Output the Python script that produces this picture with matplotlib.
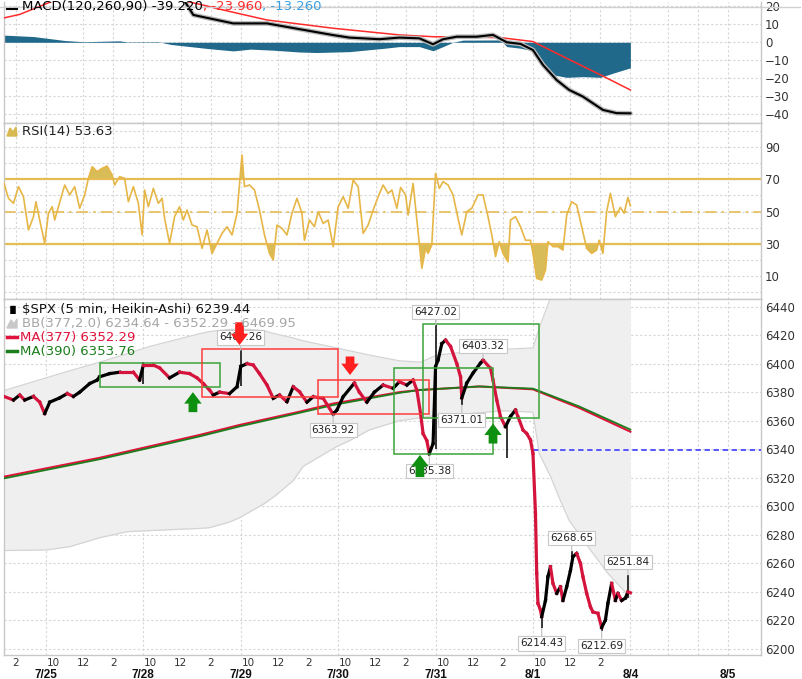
import numpy as np
import matplotlib.pyplot as plt
from matplotlib.collections import LineCollection
from matplotlib.lines import Line2D
from matplotlib.patches import Rectangle
from matplotlib.transforms import blended_transform_factory

W, H = 803, 679
BARS_PER_DAY = 78          # 5-min bars, 9:30 - 16:00
# x values below are 5-min bar numbers counted from the 7/25 open

day_labels = ['7/25', '7/28', '7/29', '7/30', '7/31', '8/1', '8/4', '8/5']
hour_labels = ['10', '12', '2']
hour_offsets = [6, 30, 54]   # 10:00, 12:00, 14:00

# ---- price (Heikin-Ashi close) ----
price_t = [-33, -26, -21, -17, -10, -5, -1, 3, 11, 17, 22, 27, 35, 41, 43, 51, 59, 70, 75, 78,
           86, 91, 99, 107, 115, 121, 126, 131, 134, 139, 147, 153, 156, 161, 166, 171, 177, 182,
           187, 193, 198, 203, 209, 214, 222, 230, 233, 238, 247, 251, 257, 263, 270, 278, 283,
           289, 294, 297, 300, 302, 305, 307, 310, 312, 314, 317, 320, 324, 329, 332, 333, 337,
           342, 348, 350, 356, 358, 361, 364, 368, 372, 376, 378, 382, 385, 388, 390, 392, 393,
           394, 396, 397, 400, 402, 404, 406, 409, 412, 414, 417, 420, 422, 425, 428, 430, 433,
           436, 438, 442, 445, 448, 450, 453, 456, 458, 461, 464, 466, 468]
price_v = [6376.8, 6374.5, 6378, 6374.5, 6377, 6373, 6365, 6373, 6376, 6379, 6377, 6380, 6386,
           6388.5, 6390.8, 6393, 6394, 6394, 6388.5, 6399, 6399, 6397, 6390, 6394, 6393, 6390,
           6386, 6381.5, 6378, 6380, 6379, 6383.8, 6398, 6400, 6399, 6393, 6385, 6375.7, 6378,
           6373.3, 6383.8, 6380.3, 6373, 6376.8, 6375.7, 6364.5, 6367.5, 6376.8, 6386.4, 6380,
           6373, 6380, 6385, 6382.7, 6387.3, 6385, 6388.5, 6381.5, 6365, 6351, 6346, 6337, 6344,
           6398, 6402.5, 6414, 6416.5, 6412, 6400, 6390.8, 6376, 6386.4, 6393.4, 6400.4, 6402.5,
           6396.7, 6388.5, 6374.5, 6362.8, 6355.8, 6363, 6367.5, 6362.8, 6353.5, 6351, 6346.5,
           6337, 6295, 6253, 6232, 6227.3, 6222.6, 6234, 6250.7, 6257.7, 6246, 6239, 6243.6,
           6234, 6243.6, 6255, 6264.7, 6267, 6260, 6250.7, 6239, 6229.6, 6226, 6225, 6215,
           6220.3, 6232, 6246, 6234, 6239, 6234, 6235.7, 6240, 6239.4]
# thin wicks: bar, low, high
wick_t = [78, 156, 230, 307, 312, 333, 369, 397, 421, 445, 466]
wick_lo = [6386, 6384, 6363.92, 6335.38, 6340, 6371.01, 6334, 6214.43, 6262, 6212.69, 6236]
wick_hi = [6401, 6409.26, 6367, 6340, 6427.02, 6377, 6358, 6225, 6268.65, 6218, 6251.84]

# ---- Bollinger band (377, 2.0) ----
bb_t = [-34, 0, 19, 43, 65, 83, 123, 131, 147, 155, 163, 175, 183, 198, 206, 233, 243, 259, 283,
        300, 313, 340, 353, 366, 390, 395, 404, 412, 419, 433, 450, 468]
bb_upper = [6381, 6390, 6395, 6401, 6407, 6412, 6421, 6422.5, 6424, 6424, 6424, 6423, 6421,
            6418, 6416, 6411, 6409, 6406, 6402, 6401, 6406, 6408.5, 6409.5, 6410, 6411, 6425,
            6446, 6456, 6461, 6465, 6468, 6470]
bb_lower = [6269, 6269.4, 6271.7, 6278, 6282.2, 6283, 6284.5, 6285, 6289, 6292, 6296, 6302,
            6307, 6318, 6328, 6342, 6346, 6353.5, 6360, 6362, 6364, 6365, 6366, 6367, 6366,
            6337, 6321, 6304, 6290, 6273, 6253, 6236]

# ---- moving averages ----
ma_t = [-34, 43, 123, 155, 203, 230, 283, 299, 347, 390, 427, 468]
ma377 = [6320.7, 6334, 6350, 6357, 6366.3, 6372, 6380, 6381.5, 6384, 6382, 6369, 6352.3]
ma390 = [6319.5, 6333, 6349, 6356, 6365.5, 6371, 6379.5, 6381.5, 6384, 6382.5, 6370, 6353.8]

prev_close = 6339.39

# labelled extremes: bar, value, 'up' (label above) / 'dn' (label below)
extremes = [(156, 6409.26, 'up'), (230, 6363.92, 'dn'), (307, 6335.38, 'dn'),
            (312, 6427.02, 'up'), (333, 6371.01, 'dn'), (350, 6403.32, 'up'),
            (397, 6214.43, 'dn'), (421, 6268.65, 'up'), (445, 6212.69, 'dn'),
            (466, 6251.84, 'up')]

# pattern boxes: bar0, bar1, low, high, colour
boxes = [(43, 139, 6383.3, 6400.6, '#3aa33a'), (125, 234, 6376.4, 6410, '#ff3b3b'),
         (218, 307, 6364.5, 6388.5, '#ff3b3b'), (279, 358, 6337, 6396.7, '#3aa33a'),
         (302, 395, 6361.7, 6427.5, '#3aa33a')]

# signal arrows: bar, tail price, tip price, colour
signals = [(155, 6429, 6413, '#ff1f1f'), (243.5, 6405, 6392, '#ff1f1f'),
           (117.7, 6366, 6380, '#0f8f0f'), (299.5, 6320.5, 6336, '#0f8f0f'),
           (358, 6344, 6358, '#0f8f0f')]

# ---- RSI(14) ----
rsi_t = [-34, -30, -26, -22, -18, -14, -10, -8, -5, -1, 2, 5, 7, 10, 15, 19, 23, 27, 31, 34, 37,
         41, 45, 49, 53, 55, 59, 63, 66, 70, 74, 77, 79, 82, 86, 90, 93, 95, 99, 103, 107, 110,
         113, 117, 121, 125, 129, 133, 137, 141, 145, 149, 153, 157, 159, 163, 167, 171, 175,
         179, 182, 185, 189, 193, 197, 201, 205, 207, 211, 215, 218, 222, 226, 230, 234, 238,
         242, 246, 250, 254, 258, 262, 266, 270, 274, 277, 281, 284, 288, 290, 294, 297, 301,
         304, 306, 309, 312, 315, 318, 322, 326, 330, 333, 337, 341, 346, 350, 354, 357, 360,
         363, 366, 370, 372, 376, 380, 384, 388, 390, 393, 397, 400, 402, 406, 410, 414, 417,
         421, 425, 429, 433, 437, 441, 443, 446, 449, 452, 456, 460, 463, 466, 468]
rsi_v = [68.6, 58.2, 55.1, 65.5, 59.2, 38.5, 46.8, 56.1, 44.7, 30.2, 48.9, 53.0, 44.7, 53.0,
         66.5, 60.3, 65.5, 52.0, 60.3, 70.7, 77.9, 74.8, 76.9, 78.3, 72.7, 66.5, 71.7, 70.7,
         56.1, 65.5, 55.1, 35.4, 63.4, 53.0, 64.4, 55.1, 58.2, 45.7, 30.2, 46.8, 53.0, 44.7,
         50.9, 41.6, 40.5, 27.0, 38.5, 23.9, 30.2, 36.4, 40.5, 35.4, 48.9, 85.2, 65.5, 66.5,
         63.4, 50.9, 35.4, 23.9, 19.8, 41.6, 39.5, 35.4, 48.9, 58.2, 48.9, 32.1, 44.7, 40.5,
         49.9, 42.6, 44.7, 28.1, 53.0, 59.2, 52.0, 69.6, 65.5, 36.4, 41.6, 50.9, 59.2, 66.5,
         61.3, 63.4, 52.0, 65.0, 60.3, 47.8, 67.5, 44.7, 14.6, 27.0, 23.9, 29.2, 73.8, 64.4,
         68.6, 66.5, 60.3, 45.7, 35.4, 49.9, 52.0, 60.3, 60.3, 46.8, 35.4, 21.9, 31.2, 23.9,
         18.7, 44.7, 46.8, 40.5, 32.1, 32.1, 23.9, 8.3, 7.3, 13.5, 31.2, 28.1, 28.1, 26.0, 47.8,
         56.1, 54.0, 40.5, 27.0, 23.9, 26.0, 32.1, 23.9, 49.9, 61.3, 46.8, 52.6, 48.9, 58.8,
         53.6]

# ---- MACD(120,260,90) ----
macd_t = [-34, 30, 100, 110, 118, 150, 177, 230, 243, 267, 283, 299, 310, 318, 329, 345, 358,
          369, 380, 390, 398, 409, 419, 430, 446, 457, 468]
macd_v = [28, 33, 27, 24, 15.2, 10.5, 10.5, 4.0, 2.6, 1.7, 2.6, 2.2, -1.1, 1.7, 3.1, 3.1, 4.1,
          0, -0.9, -4.3, -12.6, -21, -26.5, -30.2, -37.6, -39.4, -39.5]
signal_t = [-34, -21, 20, 80, 130, 136, 177, 230, 283, 310, 364, 390, 417, 444, 468]
signal_v = [13.5, 15.5, 27, 28, 20, 18.9, 12.4, 7.8, 4.1, 3.1, 2.6, 0.4, -8.9, -18.1, -26.5]
hist_t = [-34, -10, 15, 30, 59, 65, 90, 100, 130, 150, 164, 182, 203, 217, 243, 270, 283, 299,
          310, 318, 326, 334, 364, 369, 380, 390, 398, 406, 417, 430, 444, 454, 468]
hist_v = [4.0, 3.2, 1.0, 0.3, 0.8, 0.2, 0.3, -1.2, -3.5, -4.8, -3.8, -4.4, -5.4, -5.7, -5.2,
          -3.4, -2.4, -2.4, -4.7, -2.4, 0, 1.2, 1.3, -2.4, -3.3, -4.7, -10.8, -18.1, -19.5,
          -19.1, -19.5, -17.2, -14.2]

XLIM = (-33.6, 572.6)
GRID = '#d6d6d6'
TXT = '#333333'

fig = plt.figure(figsize=(W / 100, H / 100), dpi=100)
fig.patch.set_facecolor('white')


def px_axes(top, bottom):
    return fig.add_axes([4 / W, 1 - bottom / H, 757 / W, (bottom - top) / H])


ax_macd = px_axes(2, 122.5)
ax_rsi = px_axes(122.5, 299)
ax_px = px_axes(299, 655)

grid_bars = [d * BARS_PER_DAY + o for d in range(-1, 8) for o in (0, 30, 54)]
grid_bars = [g for g in grid_bars if XLIM[0] < g < XLIM[1]]

for ax in (ax_macd, ax_rsi, ax_px):
    ax.set_xlim(*XLIM)
    ax.set_facecolor('white')
    for s in ax.spines.values():
        s.set_color('#c8c8c8')
        s.set_linewidth(1)
    ax.yaxis.tick_right()
    ax.tick_params(axis='y', length=0, pad=3, labelsize=8.5, labelcolor=TXT)
    ax.set_xticks(grid_bars, minor=True)
    ax.tick_params(axis='x', which='both', length=0)
    ax.grid(True, which='minor', axis='x', color=GRID, linestyle=(0, (2, 2)), linewidth=0.8)
    ax.grid(True, which='major', axis='y', color=GRID, linestyle=(0, (2, 2)), linewidth=0.8)
    ax.set_axisbelow(True)
ax_macd.set_xticks([])
ax_rsi.set_xticks([])
ax_macd.spines['top'].set_visible(False)

# ---------------- MACD ----------------
ax_macd.set_ylim(-44.6, 22.4)
ax_macd.set_yticks(range(-40, 21, 10))
ax_macd.fill_between(hist_t, hist_v, 0, color='#21698b', linewidth=0, zorder=2)
ax_macd.plot(signal_t, signal_v, color='#ff2a2a', lw=1.1, zorder=3)
ax_macd.plot(macd_t, macd_v, color='#b8b8b8', lw=3.4, zorder=3, solid_capstyle='round')
ax_macd.plot(macd_t, macd_v, color='black', lw=1.5, zorder=4)

# ---------------- RSI ----------------
rv = np.array(rsi_v)
ax_rsi.set_ylim(-4.5, 105.45)
ax_rsi.set_yticks(range(0, 101, 10))
ax_rsi.set_yticklabels(['' if v % 20 == 0 else str(v) for v in range(0, 101, 10)])
ax_rsi.fill_between(rsi_t, rv, 70, where=rv > 70, interpolate=True, color='#d8bc58',
                    linewidth=0, zorder=2)
ax_rsi.fill_between(rsi_t, rv, 30, where=rv < 30, interpolate=True, color='#d8bc58',
                    linewidth=0, zorder=2)
for lvl in (70, 30):
    ax_rsi.axhline(lvl, color='#e8bc55', lw=1.6, zorder=2)
ax_rsi.axhline(50, color='#e8bc55', lw=1.2, linestyle=(0, (7, 3, 1.5, 3)), zorder=2)
ax_rsi.plot(rsi_t, rv, color='#e6b647', lw=1.2, zorder=3)

# ---------------- price ----------------
ax_px.set_ylim(6195.8, 6445.3)
ax_px.set_yticks(range(6200, 6441, 20))
ax_px.fill_between(bb_t, bb_lower, bb_upper, color='#efefef', linewidth=0, zorder=1)
ax_px.plot(bb_t, bb_upper, color='#d4d4d4', lw=0.9, zorder=1)
ax_px.plot(bb_t, bb_lower, color='#d4d4d4', lw=0.9, zorder=1)
ax_px.plot(ma_t, ma377, color='#e0123c', lw=1.5, zorder=3)
ax_px.plot(ma_t, ma390, color='#1c7d1c', lw=1.3, zorder=3)
ax_px.hlines(prev_close, 390, XLIM[1], colors='#4a4aff', linestyles=(0, (3, 2)), lw=1.3, zorder=3)

ax_px.vlines(wick_t, wick_lo, wick_hi, colors='black', lw=1.1, zorder=4)
pts = np.column_stack([price_t, price_v])
segs = [pts[i - 1:i + 1] for i in range(1, len(pts))]
cols = ['black' if price_v[i] > price_v[i - 1] else '#d4143c' for i in range(1, len(pts))]
ax_px.add_collection(LineCollection(segs, colors=cols, linewidths=2.3, capstyle='projecting',
                                    zorder=4))

for b0, b1, lo, hi, c in boxes:
    ax_px.add_patch(Rectangle((b0, lo), b1 - b0, hi - lo, fill=False, ec=c, lw=1.1, zorder=5))

for t, v, side in extremes:
    dy = 13 if side == 'up' else -15
    ax_px.annotate(f'{v:.2f}', xy=(t, v), xytext=(0, dy), textcoords='offset pixels',
                   ha='center', va='center', fontsize=7.5, color='#222222', zorder=6,
                   bbox=dict(boxstyle='square,pad=0.2', fc='white', ec='#c8c8c8', lw=0.8),
                   arrowprops=dict(arrowstyle='-', color='#bdbdbd', lw=0.8, shrinkA=0, shrinkB=0))

for t, tail, tip, c in signals:
    ax_px.arrow(t, tail, 0, tip - tail, width=7, head_width=14, head_length=8,
                length_includes_head=True, color=c, lw=0, zorder=7)

# x tick labels (hours) and dates
hour_ticks, hour_txt = [], []
for d in range(-1, 6):
    for lab, off in zip(hour_labels, hour_offsets):
        b = d * BARS_PER_DAY + off
        if XLIM[0] < b < XLIM[1]:
            hour_ticks.append(b)
            hour_txt.append(lab)
ax_px.set_xticks(hour_ticks)
ax_px.set_xticklabels(hour_txt)
ax_px.tick_params(axis='x', which='major', pad=2, labelsize=7.5, labelcolor=TXT)
tr = blended_transform_factory(ax_px.transData, ax_px.transAxes)
for i, lab in enumerate(day_labels):
    ax_px.text(i * BARS_PER_DAY, -19.5 / 356, lab, transform=tr, ha='center', va='center',
               fontsize=8.5, fontweight='bold', color='#111111',
               family=['Liberation Sans', 'DejaVu Sans'])

# ---------------- legends / headers ----------------
fig.add_artist(Line2D([0, 800 / W], [1 - 6.8 / H] * 2, color='#d0d0d0', lw=1))


def fy(y):
    return 1 - y / H


def colored_text(x_px, y_px, parts, **kw):
    r = fig.canvas.get_renderer()
    x = x_px
    for s, c in parts:
        t = fig.text(x / W, fy(y_px), s, color=c, va='center', **kw)
        x += t.get_window_extent(renderer=r).width


def handle(y_px, color, lw=2.5):
    fig.add_artist(Line2D([7 / W, 17 / W], [fy(y_px)] * 2, color=color, lw=lw))


handle(9, 'black', 1.5)
colored_text(22, 6.5, [('MACD(120,260,90) -39.220', 'black'), (', -23.960', '#ff2a2a'),
                       (', -13.260', '#3aa0e0')], fontsize=9.5)

fig.add_artist(plt.Polygon([[7 / W, fy(136)], [10 / W, fy(128)], [13 / W, fy(132)],
                            [16 / W, fy(127)], [17 / W, fy(136)]], closed=True,
                           color='#d8b850'))
fig.text(22 / W, fy(132), 'RSI(14) 53.63', fontsize=9.5, va='center', color='#222222')

fig.text(7 / W, fy(310), '\u2590\u258c', fontsize=6, va='center', color='black')
fig.text(22 / W, fy(310), '$SPX (5 min, Heikin-Ashi) 6239.44', fontsize=9.5, va='center',
         color='#111111')
fig.add_artist(plt.Polygon([[7 / W, fy(328)], [11 / W, fy(320)], [14 / W, fy(324)],
                            [17 / W, fy(319)], [17 / W, fy(328)]], closed=True,
                           color='#c8c8c8'))
fig.text(22 / W, fy(323.5), 'BB(377,2.0) 6234.64 - 6352.29 - 6469.95', fontsize=9.5,
         va='center', color='#a6a6a6')
handle(337, '#e0123c')
fig.text(20 / W, fy(337), 'MA(377) 6352.29', fontsize=9.5, va='center', color='#e0123c')
handle(351, '#1c7d1c')
fig.text(20 / W, fy(351), 'MA(390) 6353.76', fontsize=9.5, va='center', color='#1c7d1c')

fig.savefig('out.png', dpi=100)
